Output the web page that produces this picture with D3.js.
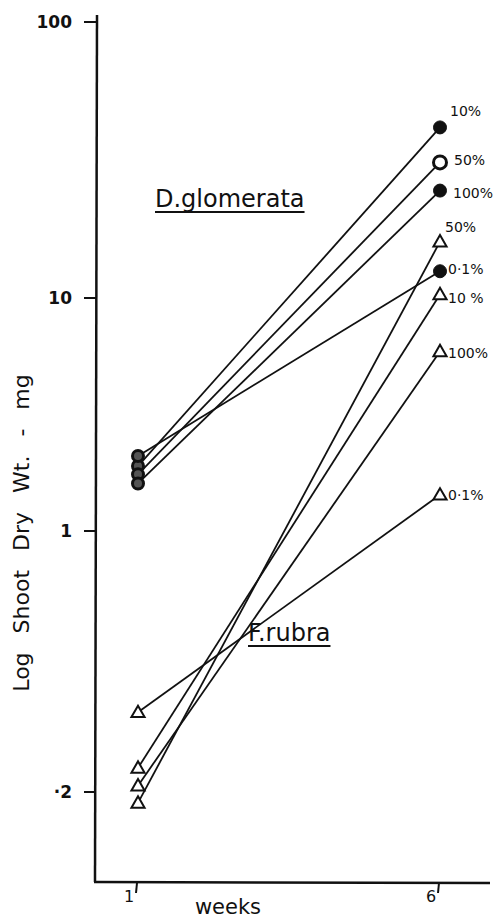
<!DOCTYPE html>
<html>
<head>
<meta charset="utf-8">
<script src="https://cdn.jsdelivr.net/npm/d3@7"></script>
<style>
  body { margin: 0; background: #fff; }
  svg { display: block; }
  text { font-family: "DejaVu Sans", sans-serif; fill: #111; }
</style>
</head>
<body>
<div class="chart"></div>
<script>
// weeks measured
const weeks = [1, 6];

// D. glomerata (circles), shoot dry wt in mg at week 1 and week 6
const dgLabels = ["10%", "50%", "100%", "0·1%"];
const dgWeek1 = [1.9, 1.75, 1.6, 2.1];
const dgWeek6 = [41.5, 31, 24.5, 12.5];

// F. rubra (triangles)
const frLabels = ["50%", "10 %", "100%", "0·1%"];
const frWeek1 = [0.187, 0.232, 0.208, 0.327];
const frWeek6 = [16, 10.3, 5.9, 1.43];

// y tick values and their printed labels
const yTicks = [0.2, 1, 10, 100];
const yTickLabels = ["·2", "1", "10", "100"];

const w = 503, h = 922;

const svg = d3.select("div.chart")
    .append("svg")
    .attr("width", w)
    .attr("height", h);

// x scale: week 1 and week 6
const x = d3.scaleLinear().domain([1, 6]).range([138, 440]);

// hand drawn log axis, decades are not quite even so go piecewise
const y = d3.scaleLog()
    .domain(yTicks)
    .range([792, 531, 298, 22]);

const axisColor = "#111";

// y axis line
svg.append("line")
    .attr("x1", 97).attr("x2", 95)
    .attr("y1", 15).attr("y2", 882)
    .attr("stroke", axisColor).attr("stroke-width", 2.5);

// x axis line
svg.append("line")
    .attr("x1", 94).attr("x2", 490)
    .attr("y1", 882).attr("y2", 883)
    .attr("stroke", axisColor).attr("stroke-width", 2.5);

// y ticks
const yt = svg.selectAll("g.ytick")
    .data(yTicks)
    .enter()
    .append("g")
    .attr("class", "ytick");

yt.append("line")
    .attr("x1", 84).attr("x2", 96)
    .attr("y1", d => y(d)).attr("y2", d => y(d))
    .attr("stroke", axisColor).attr("stroke-width", 2);

yt.append("text")
    .attr("x", 72)
    .attr("y", d => y(d) + 6)
    .attr("text-anchor", "end")
    .attr("font-size", "17px")
    .attr("font-weight", "bold")
    .text((d, i) => yTickLabels[i]);

// x ticks
const xt = svg.selectAll("g.xtick")
    .data(weeks)
    .enter()
    .append("g")
    .attr("class", "xtick");

xt.append("line")
    .attr("x1", d => x(d) - 1).attr("x2", d => x(d) - 2)
    .attr("y1", 883).attr("y2", 893)
    .attr("stroke", axisColor).attr("stroke-width", 2);

xt.append("text")
    .attr("x", d => x(d) - 9)
    .attr("y", 902)
    .attr("text-anchor", "middle")
    .attr("font-size", "16px")
    .text(d => d);

// axis titles
svg.append("text")
    .attr("x", 228)
    .attr("y", 914)
    .attr("text-anchor", "middle")
    .attr("font-size", "21px")
    .text("weeks");

svg.append("text")
    .attr("transform", "translate(29,533) rotate(-90)")
    .attr("text-anchor", "middle")
    .attr("font-size", "22px")
    .attr("word-spacing", "12px")
    .text("Log Shoot Dry Wt. - mg");

// build series rows
const dg = dgLabels.map((l, i) => ({ label: l, v: [dgWeek1[i], dgWeek6[i]], idx: i }));
const fr = frLabels.map((l, i) => ({ label: l, v: [frWeek1[i], frWeek6[i]], idx: i }));

// lines
svg.selectAll("line.series")
    .data(dg.concat(fr))
    .enter()
    .append("line")
    .attr("class", "series")
    .attr("x1", x(1)).attr("x2", x(6))
    .attr("y1", d => y(d.v[0])).attr("y2", d => y(d.v[1]))
    .attr("stroke", "#111").attr("stroke-width", 1.8);

// circle markers, 50% drawn open
dg.forEach(d => {
    weeks.forEach((wk, j) => {
        const open = d.label === "50%" || j === 0;
        svg.append("circle")
            .attr("cx", x(wk))
            .attr("cy", y(d.v[j]))
            .attr("r", j === 0 ? 5.5 : 6.5)
            .attr("fill", open ? (j === 0 ? "#555" : "#fff") : "#111")
            .attr("stroke", "#111")
            .attr("stroke-width", open ? 3 : 1);
    });
});

// triangle markers
const tri = d3.symbol().type(d3.symbolTriangle).size(75);
fr.forEach(d => {
    weeks.forEach((wk, j) => {
        svg.append("path")
            .attr("d", tri)
            .attr("transform", "translate(" + x(wk) + "," + (y(d.v[j]) + 1) + ")")
            .attr("fill", "#fff")
            .attr("stroke", "#111")
            .attr("stroke-width", 2);
    });
});

// percent labels at week 6
const dgOff = [[10, -11], [14, 3], [13, 7], [8, 3]];
const frOff = [[5, -10], [8, 9], [8, 7], [8, 5]];
svg.selectAll("text.dgl")
    .data(dg)
    .enter()
    .append("text")
    .attr("x", d => x(6) + dgOff[d.idx][0])
    .attr("y", d => y(d.v[1]) + dgOff[d.idx][1])
    .attr("font-size", "14px")
    .text(d => d.label);

svg.selectAll("text.frl")
    .data(fr)
    .enter()
    .append("text")
    .attr("x", d => x(6) + frOff[d.idx][0])
    .attr("y", d => y(d.v[1]) + frOff[d.idx][1])
    .attr("font-size", "14px")
    .text(d => d.label);

// species names, underlined
const species = [
    { name: "D.glomerata", x: 155, y: 207 },
    { name: "F.rubra", x: 248, y: 641 }
];
species.forEach(s => {
    const t = svg.append("text")
        .attr("x", s.x)
        .attr("y", s.y)
        .attr("font-size", "24px")
        .text(s.name);
    const len = t.node().getComputedTextLength();
    svg.append("line")
        .attr("x1", s.x).attr("x2", s.x + len)
        .attr("y1", s.y + 5).attr("y2", s.y + 5)
        .attr("stroke", "#111").attr("stroke-width", 2);
});
</script>
</body>
</html>
